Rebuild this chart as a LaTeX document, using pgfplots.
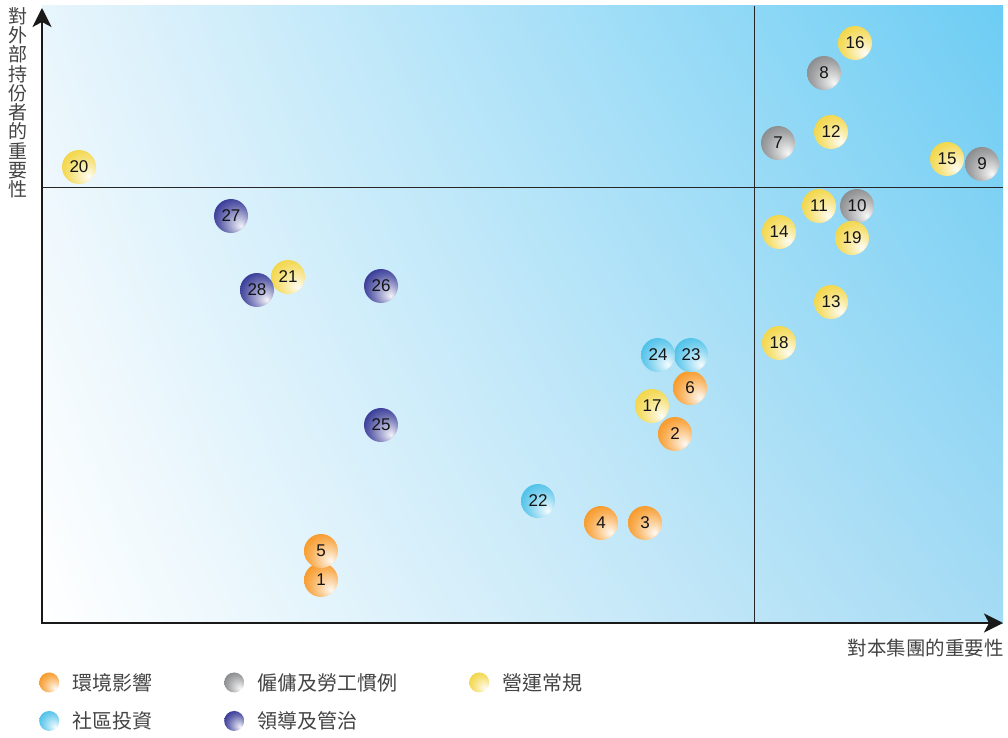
\documentclass[border=0pt]{standalone}
\usepackage{pgfplots}
\pgfplotsset{compat=1.18}
\usepackage{fontspec}
\setmainfont{Liberation Sans}
\newfontfamily\cjk{Noto Sans CJK TC}
\usetikzlibrary{arrows.meta,shadings}

\definecolor{cEnv}{HTML}{F7941D}
\definecolor{cEmp}{HTML}{858688}
\definecolor{cOps}{HTML}{F2D43E}
\definecolor{cCom}{HTML}{45BEE8}
\definecolor{cGov}{HTML}{2E3192}
\definecolor{bgLL}{HTML}{FFFFFF}
\definecolor{bgUL}{HTML}{E8F5FC}
\definecolor{bgLR}{HTML}{A5DBF4}
\definecolor{bgUR}{HTML}{6DCDF4}
\definecolor{txt}{HTML}{444444}

% shaded disc: colour at upper left, white towards lower right, white rim
\colorlet{mballcol}{orange}
\pgfdeclareradialshading[mballcol]{mball}{\pgfqpoint{15bp}{-15bp}}{%
  color(0bp)=(mballcol!5!white);
  color(10bp)=(mballcol!35!white);
  color(24bp)=(mballcol!75!white);
  color(35bp)=(mballcol);
  color(41bp)=(mballcol!80!white);
  color(45bp)=(mballcol!25!white);
  color(47bp)=(white);
  color(50bp)=(white)}
\pgfdeclareplotmark{mball}{%
  \pgfpathcircle{\pgfpointorigin}{\pgfplotmarksize}%
  \pgfshadepath{mball}{0}%
  \pgfusepath{}%
}
\tikzset{mball color/.code={\colorlet{mballcol}{#1}}}

\pgfplotsset{
  cat/.style={only marks, mark=mball, mark size=17pt,
    mark options={mball color=#1},
    point meta=explicit symbolic, nodes near coords,
    every node near coord/.append style={anchor=center, font=\fontsize{17}{17}\selectfont, text=black!92},
    legend image code/.code={\pgfsetplotmarksize{10pt}\colorlet{mballcol}{#1}\pgfuseplotmark{mball}}},
}

\begin{document}
\begin{tikzpicture}
\begin{axis}[
  x=1pt, y=1pt,
  xmin=0, xmax=961, ymin=0, ymax=615,
  hide axis, clip=false,
  legend columns=3,
  legend cell align=left,
  legend style={at={(axis cs:-6,-46)}, anchor=north west, draw=none, fill=none,
    font=\cjk\fontsize{20}{20}\selectfont, text=txt, row sep=16pt,
    /tikz/every odd column/.append style={column sep=11pt},
    /tikz/every even column/.append style={column sep=70pt}},
]
% fixed page frame
\path (axis cs:-42,-114) rectangle (axis cs:966,623);
% background gradient
\shade[lower left=bgLL, upper left=bgUL, lower right=bgLR, upper right=bgUR]
  (axis cs:0,0) rectangle (axis cs:961,617);
% quadrant dividers
\draw[black!85, line width=0.9pt] (axis cs:712,0) -- (axis cs:712,617);
\draw[black!85, line width=0.9pt] (axis cs:0,436) -- (axis cs:961,436);
% axes
\draw[black!90, line width=2pt, -{Stealth[length=19pt, width=19pt, inset=5pt]}] (axis cs:0,-1) -- (axis cs:0,615);
\draw[black!90, line width=2pt, -{Stealth[length=19pt, width=19pt, inset=5pt]}] (axis cs:-1,0) -- (axis cs:961,0);
% axis titles
\node[anchor=east, inner sep=0pt, font=\cjk\fontsize{19.5}{19.5}\selectfont, text=txt]
  at (axis cs:962,-25) {對本集團的重要性};
\node[anchor=north, inner sep=0pt, align=center, font=\cjk\fontsize{19}{19.3}\selectfont, text=txt]
  at (axis cs:-24,616) {對\\外\\部\\持\\份\\者\\的\\重\\要\\性};

% 環境影響
\addplot[cat=cEnv] coordinates {
  (279,43) [1]
  (633,189) [2]
  (603,100) [3]
  (559,100) [4]
  (279,72) [5]
  (648,235) [6]
};
\addlegendentry{環境影響}
% 僱傭及勞工慣例
\addplot[cat=cEmp] coordinates {
  (736,480) [7]
  (782,550) [8]
  (940,459) [9]
  (815,417) [10]
};
\addlegendentry{僱傭及勞工慣例}
% 營運常規
\addplot[cat=cOps] coordinates {
  (777,417) [11]
  (789,491) [12]
  (789,321) [13]
  (737,391) [14]
  (905,464) [15]
  (813,580) [16]
  (610,217) [17]
  (737,280) [18]
  (810,385) [19]
  (37,456) [20]
  (246,346) [21]
};
\addlegendentry{營運常規}
% 社區投資
\addplot[cat=cCom] coordinates {
  (496,122) [22]
  (649,268) [23]
  (616,268) [24]
};
\addlegendentry{社區投資}
% 領導及管治
\addplot[cat=cGov] coordinates {
  (339,198) [25]
  (339,337) [26]
  (189,407) [27]
  (215,333) [28]
};
\addlegendentry{領導及管治}
\end{axis}
\end{tikzpicture}
\end{document}
